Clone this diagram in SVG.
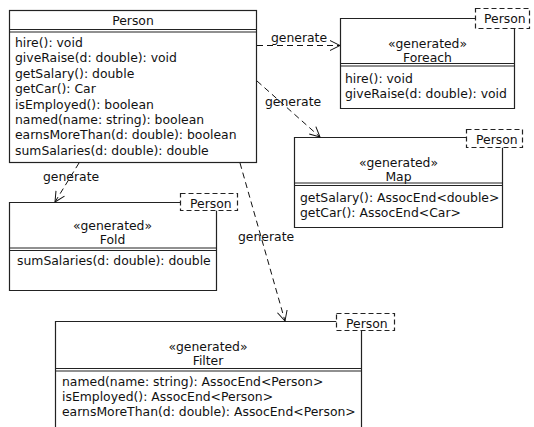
<svg xmlns="http://www.w3.org/2000/svg" width="534" height="427" viewBox="0 0 534 427">
<defs>
<style>
text{font-family:"DejaVu Sans","Liberation Sans",sans-serif;font-size:12.4px;fill:#111}
.c{text-anchor:middle}
.box{fill:#fff;stroke:#222;stroke-width:1.2}
.ln{fill:none;stroke:#222;stroke-width:1.2}
.tab{fill:#fff;stroke:#222;stroke-width:1.2;stroke-dasharray:5 3}
.dep{fill:none;stroke:#111;stroke-width:1;stroke-dasharray:6 4}
.head{fill:none;stroke:#111;stroke-width:1}
</style>
<marker id="open" markerWidth="14" markerHeight="14" refX="11" refY="6" orient="auto" markerUnits="userSpaceOnUse">
<path class="head" d="M1,1 L11,6 L1,11"/>
</marker>
</defs>
<rect width="534" height="427" fill="#fff"/>

<g id="person">
<rect class="box" x="9.5" y="10.5" width="247" height="152"/>
<text class="c" x="133" y="24.5">Person</text>
<line class="ln" x1="9.5" y1="29.5" x2="256.5" y2="29.5"/>
<line class="ln" x1="9.5" y1="32" x2="256.5" y2="32"/>
<text x="15" y="47">hire(): void</text>
<text x="15" y="62.4">giveRaise(d: double): void</text>
<text x="15" y="77.8">getSalary(): double</text>
<text x="15" y="93.2">getCar(): Car</text>
<text x="15" y="108.6">isEmployed(): boolean</text>
<text x="15" y="124">named(name: string): boolean</text>
<text x="15" y="139.4">earnsMoreThan(d: double): boolean</text>
<text x="15" y="154.8">sumSalaries(d: double): double</text>
</g>

<g id="foreach">
<path class="box" d="M475.5,18.5 H340.5 V108.5 H514.5 V28.5"/>
<rect class="tab" x="475.5" y="8.5" width="54" height="20"/>
<text x="484" y="23">Person</text>
<text class="c" x="427.5" y="47.5">«generated»</text>
<text class="c" x="427.5" y="61.5">Foreach</text>
<line class="ln" x1="340.5" y1="63.5" x2="514.5" y2="63.5"/>
<line class="ln" x1="340.5" y1="66" x2="514.5" y2="66"/>
<text x="345" y="83">hire(): void</text>
<text x="345" y="98">giveRaise(d: double): void</text>
</g>

<g id="map">
<path class="box" d="M466.5,137.5 H294.5 V227.5 H502.5 V147.5"/>
<rect class="tab" x="466.5" y="129.5" width="56" height="18"/>
<text x="476" y="144">Person</text>
<text class="c" x="398.5" y="166.5">«generated»</text>
<text class="c" x="398.5" y="181">Map</text>
<line class="ln" x1="294.5" y1="183" x2="502.5" y2="183"/>
<line class="ln" x1="294.5" y1="185.5" x2="502.5" y2="185.5"/>
<text x="300" y="202">getSalary(): AssocEnd&lt;double&gt;</text>
<text x="300" y="217">getCar(): AssocEnd&lt;Car&gt;</text>
</g>

<g id="fold">
<path class="box" d="M180.5,202.5 H9.5 V290.5 H216.5 V210.5"/>
<rect class="tab" x="180.5" y="193.5" width="57" height="17"/>
<text x="190" y="207.5">Person</text>
<text class="c" x="112.5" y="229.5">«generated»</text>
<text class="c" x="112.5" y="244">Fold</text>
<line class="ln" x1="9.5" y1="248" x2="216.5" y2="248"/>
<line class="ln" x1="9.5" y1="250.5" x2="216.5" y2="250.5"/>
<text x="17" y="265">sumSalaries(d: double): double</text>
</g>

<g id="filter">
<path class="box" d="M336.5,321.5 H55.5 V440 M361.5,440 V330.5"/>
<rect class="tab" x="336.5" y="313.5" width="58" height="17"/>
<text x="346" y="327.5">Person</text>
<text class="c" x="208" y="350.5">«generated»</text>
<text class="c" x="208" y="365">Filter</text>
<line class="ln" x1="55.5" y1="368.5" x2="361.5" y2="368.5"/>
<line class="ln" x1="55.5" y1="371" x2="361.5" y2="371"/>
<text x="62" y="385.5">named(name: string): AssocEnd&lt;Person&gt;</text>
<text x="62" y="400.5">isEmployed(): AssocEnd&lt;Person&gt;</text>
<text x="62" y="415.5">earnsMoreThan(d: double): AssocEnd&lt;Person&gt;</text>
</g>

<g id="connectors">
<line class="dep" x1="257" y1="45.5" x2="340" y2="45.5" marker-end="url(#open)"/>
<text class="c" x="299" y="42">generate</text>
<line class="dep" x1="257" y1="81" x2="320" y2="137" marker-end="url(#open)"/>
<text x="265" y="106">generate</text>
<line class="dep" x1="79" y1="163" x2="55" y2="202" marker-end="url(#open)"/>
<text x="43" y="181">generate</text>
<line class="dep" x1="240" y1="163" x2="285" y2="321" marker-end="url(#open)"/>
<text x="238" y="241">generate</text>
</g>
</svg>
